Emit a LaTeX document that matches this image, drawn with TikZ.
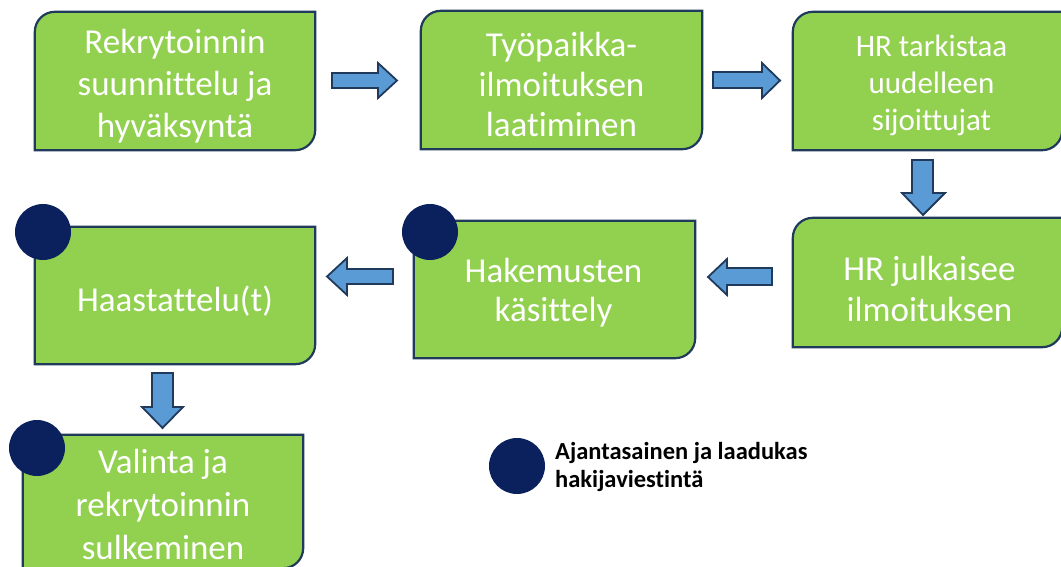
\documentclass[tikz,border=0pt]{standalone}
\usepackage{fontspec}
\setmainfont{Carlito}[Ligatures=NoCommon]
\definecolor{boxgreen}{HTML}{92D050}
\definecolor{edgecol}{HTML}{203A5C}
\definecolor{arrowblue}{HTML}{5B9BD5}
\definecolor{dotnavy}{HTML}{0A215E}
\newcommand\greenshape[1]{\draw[gshape] (#1.west) [rounded corners=20pt] -- (#1.north west) [sharp corners] -- (#1.north east) [rounded corners=20pt] -- (#1.south east) [sharp corners] -- (#1.south west) -- cycle;}
\begin{document}
\begin{tikzpicture}[x=1pt,y=-1pt,
  frame/.style={rectangle, inner sep=0pt, minimum width=#1},
  gshape/.style={fill=boxgreen, draw=edgecol, line width=2.2pt},
  txt/.style={inner sep=0pt, text=white, align=center, font=\fontsize{35}{41}\selectfont},
  barrow/.style={fill=arrowblue, draw=edgecol, line width=1.8pt, line join=miter},
  dot/.style={circle, fill=dotnavy, inner sep=0pt, minimum size=56pt},
  legend/.style={inner sep=0pt, anchor=base west, align=left, font=\fontsize{24.5}{28}\selectfont\bfseries}
]
\useasboundingbox (0,0) rectangle (1061,567);
\clip (0,0) rectangle (1061,567);

% boxes
\node[frame=280pt, minimum height=138pt] (b1) at (175,81) {};
\greenshape{b1}
\node[txt, font=\fontsize{35}{42}\selectfont] (t1) at ([yshift=-5.5pt]b1.center) {Rekrytoinnin\\suunnittelu ja\\hyväksyntä};

\node[frame=281pt, minimum height=138pt] (b2) at (561.5,80) {};
\greenshape{b2}
\node[txt, font=\fontsize{35}{40}\selectfont] (t2) at ([yshift=-4pt]b2.center) {Työpaikka-\\ilmoituksen\\laatiminen};

\node[frame=269pt, minimum height=138pt] (b3) at (927.5,81) {};
\greenshape{b3}
\node[txt, font=\fontsize{31}{37}\selectfont] (t3) at ([xshift=4pt,yshift=-4pt]b3.center) {HR tarkistaa\\uudelleen\\sijoittujat};

\node[frame=269pt, minimum height=129pt] (b4) at (927.5,282.5) {};
\greenshape{b4}
\node[txt] (t4) at ([xshift=2pt,yshift=-6pt]b4.center) {HR julkaisee\\ilmoituksen};

\node[frame=281pt, minimum height=137pt] (b5) at (554.5,289.5) {};
\greenshape{b5}
\node[txt, font=\fontsize{35}{39}\selectfont] (t5) at ([xshift=-1pt,yshift=-3pt]b5.center) {Hakemusten\\käsittely};

\node[frame=280pt, minimum height=137pt] (b6) at (175,295.5) {};
\greenshape{b6}
\node[txt] (t6) at ([yshift=-6pt]b6.center) {Haastattelu(t)};

\node[frame=280pt, minimum height=133pt] (b7) at (163,501.5) {};
\greenshape{b7}
\node[txt, font=\fontsize{35}{43}\selectfont] (t7) at ([yshift=-3pt]b7.center) {Valinta ja\\rekrytoinnin\\sulkeminen};

% markers
\node[dot] (d5) at (430,232) {};
\node[dot] (d6) at (43,232) {};
\node[dot] (d7) at (37,448) {};

% block arrows
\draw[barrow] (332,73) -- (378,73) -- (378,63) -- (397,80.5) -- (378,98) -- (378,88) -- (332,88) -- cycle;
\draw[barrow] (713,72) -- (762,72) -- (762,63) -- (780,80.5) -- (762,98) -- (762,88) -- (713,88) -- cycle;
\draw[barrow] (912,160) -- (933,160) -- (933,193) -- (945,193) -- (923,215) -- (902,193) -- (912,193) -- cycle;
\draw[barrow] (772,268) -- (727,268) -- (727,259) -- (708,277) -- (727,295) -- (727,285) -- (772,285) -- cycle;
\draw[barrow] (393,269) -- (347,269) -- (347,258) -- (327,276.5) -- (347,295) -- (347,284) -- (393,284) -- cycle;
\draw[barrow] (152,373) -- (173,373) -- (173,407) -- (183,407) -- (162.5,428) -- (142,407) -- (152,407) -- cycle;

% legend
\node[dot] (ld) at (517,466) {};
\node[legend] (lt) at (555,487) {Ajantasainen ja laadukas\\hakijaviestintä};
\end{tikzpicture}
\end{document}
